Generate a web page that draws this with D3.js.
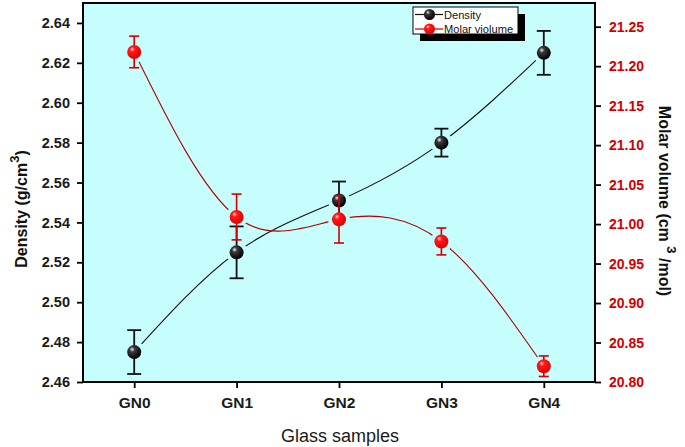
<!DOCTYPE html>
<html><head><meta charset="utf-8">
<script src="https://cdn.jsdelivr.net/npm/d3@7/dist/d3.min.js"></script>
<style>
html,body{margin:0;padding:0;background:#fff;}
svg{display:block;font-family:"Liberation Sans",Arial,sans-serif;}
</style></head>
<body><svg id="c" width="685" height="447"></svg>
<script>
const categories = ["GN0","GN1","GN2","GN3","GN4"];
const density = [2.475, 2.525, 2.551, 2.580, 2.625];
const densityErr = [0.011, 0.013, 0.0095, 0.007, 0.011];
const molarVolume = [21.218, 21.009, 21.006, 20.978, 20.820];
const molarVolumeErr = [0.020, 0.029, 0.030, 0.017, 0.013];
const leftTicks = [2.46,2.48,2.50,2.52,2.54,2.56,2.58,2.60,2.62,2.64];
const rightTicks = [20.80,20.85,20.90,20.95,21.00,21.05,21.10,21.15,21.20,21.25];
const legendLabels = ["Density","Molar violume"];

const svg = d3.select("#c");
const L=83,R=595,T=3,B=382;
const x = d3.scalePoint().domain(categories).range([L,R]).padding(0.5);
const yL = d3.scaleLinear().domain([2.46,2.65]).range([B,T]);
const yR = d3.scaleLinear().domain([20.80,21.28]).range([B,T]);

const defs = svg.append("defs");
function grad(id, hi, mid, base){
  const g = defs.append("radialGradient").attr("id",id).attr("cx","38%").attr("cy","35%").attr("r","65%").attr("fx","35%").attr("fy","30%");
  g.append("stop").attr("offset","0%").attr("stop-color",hi);
  g.append("stop").attr("offset","28%").attr("stop-color",mid);
  g.append("stop").attr("offset","100%").attr("stop-color",base);
}
grad("gBlack","#f0f0f0","#3a3a3a","#000");
grad("gRed","#ffc8c8","#ff1a1a","#e00000");

svg.append("rect").attr("x",L).attr("y",T).attr("width",R-L).attr("height",B-T).attr("fill","#c6fdfd");

function mask(id, vals, ys){
  const m = defs.append("mask").attr("id",id).attr("maskUnits","userSpaceOnUse").attr("x",0).attr("y",0).attr("width",685).attr("height",447);
  m.append("rect").attr("x",0).attr("y",0).attr("width",685).attr("height",447).attr("fill","#fff");
  vals.forEach((v,i)=>m.append("circle").attr("cx",x(categories[i])).attr("cy",ys(v)).attr("r",11).attr("fill","#000"));
}
mask("mB", density, yL);
mask("mR", molarVolume, yR);

const lineB = d3.line().x((d,i)=>x(categories[i])).y(d=>yL(d)).curve(d3.curveNatural);
const lineR = d3.line().x((d,i)=>x(categories[i])).y(d=>yR(d)).curve(d3.curveNatural);

function series(vals, errs, ys, line, maskId, lineColor, errColor, errW, capW, fill){
  const g = svg.append("g");
  g.append("path").attr("d",line(vals)).attr("fill","none").attr("stroke",lineColor).attr("stroke-width",1.1).attr("mask",`url(#${maskId})`);
  vals.forEach((v,i)=>{
    const cx = x(categories[i]);
    const y1 = ys(v+errs[i]), y2 = ys(v-errs[i]);
    g.append("line").attr("x1",cx).attr("x2",cx).attr("y1",y1).attr("y2",y2).attr("stroke",errColor).attr("stroke-width",errW);
    [y1,y2].forEach(yy=>g.append("line").attr("x1",cx-capW/2).attr("x2",cx+capW/2).attr("y1",yy).attr("y2",yy).attr("stroke",errColor).attr("stroke-width",errW));
  });
  vals.forEach((v,i)=>{
    g.append("circle").attr("cx",x(categories[i])).attr("cy",ys(v)).attr("r",7).attr("fill",fill);
  });
}
series(density, densityErr, yL, lineB, "mB", "#111", "#111", 1.8, 14, "url(#gBlack)");
series(molarVolume, molarVolumeErr, yR, lineR, "mR", "#b00000", "#d00000", 1.6, 10, "url(#gRed)");

svg.append("rect").attr("x",L).attr("y",T).attr("width",R-L).attr("height",B-T).attr("fill","none").attr("stroke","#000").attr("stroke-width",2);

const axL = svg.append("g").attr("transform",`translate(${L},0)`).call(d3.axisLeft(yL).tickValues(leftTicks).tickFormat(d3.format(".2f")).tickSize(6).tickPadding(7));
const axR = svg.append("g").attr("transform",`translate(${R},0)`).call(d3.axisRight(yR).tickValues(rightTicks).tickFormat(d3.format(".2f")).tickSize(6).tickPadding(8));
const axB = svg.append("g").attr("transform",`translate(0,${B})`).call(d3.axisBottom(x).tickSize(6).tickPadding(9));
[axL,axR,axB].forEach(a=>{
  a.select(".domain").remove();
  a.selectAll(".tick line").attr("stroke","#000").attr("stroke-width",1.8);
  a.selectAll("text").attr("font-family","'Liberation Sans',Arial,sans-serif").attr("font-weight","bold").attr("font-size",14.5).attr("fill","#1a1a1a");
});
axR.selectAll("text").attr("fill","#d00000").attr("font-size",14);
axB.selectAll("text").attr("font-size",15.5);

svg.append("text").attr("x",340).attr("y",442).attr("text-anchor","middle").attr("font-size",18).attr("fill","#1a1a1a").text("Glass samples");

const tl = svg.append("text").attr("transform","translate(27,209) rotate(-90)").attr("text-anchor","middle").attr("font-size",16).attr("font-weight","bold").attr("fill","#111");
tl.append("tspan").text("Density (g/cm");
tl.append("tspan").attr("dy",-8).attr("font-size",13).text("3");
tl.append("tspan").attr("dy",8).text(")");

const tr = svg.append("text").attr("transform","translate(659,201) rotate(90)").attr("text-anchor","middle").attr("font-size",16).attr("font-weight","bold").attr("fill","#111");
tr.append("tspan").text("Molar volume (cm ");
tr.append("tspan").attr("dy",-8).attr("font-size",13).text("3");
tr.append("tspan").attr("dy",8).text(" /mol)");

const lg = svg.append("g");
lg.append("rect").attr("x",420).attr("y",14).attr("width",105).attr("height",27).attr("fill","#000");
lg.append("rect").attr("x",413).attr("y",7).attr("width",105).attr("height",27).attr("fill","#fff").attr("stroke","#000").attr("stroke-width",1);
const legColors = [["#111","url(#gBlack)"],["#c00000","url(#gRed)"]];
legendLabels.forEach((t,i)=>{
  const cy = 14.5 + i*14.5;
  lg.append("line").attr("x1",415).attr("x2",443).attr("y1",cy).attr("y2",cy).attr("stroke",legColors[i][0]).attr("stroke-width",1.2);
  lg.append("circle").attr("cx",429.5).attr("cy",cy).attr("r",5.5).attr("fill",legColors[i][1]);
  lg.append("text").attr("x",444).attr("y",cy+4).attr("font-size",11.1).attr("fill","#111").text(t);
});
</script></body></html>
